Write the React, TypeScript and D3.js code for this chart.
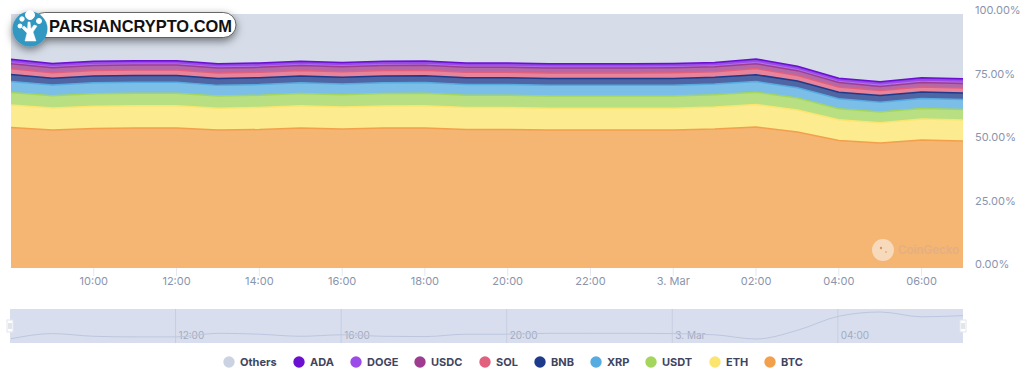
import React from "react";
import * as d3 from "d3";

const hours = d3.range(0, 24);
const BTC = [55.3,54.3,54.9,55.1,55.1,54.3,54.5,55.1,54.7,55.1,55.1,54.5,54.5,54.3,54.3,54.3,54.3,54.7,55.5,53.5,50.2,49.2,50.4,50.0];
const ETH = [8.9,8.7,8.8,8.8,8.8,8.6,8.7,8.8,8.7,8.7,8.8,8.7,8.7,8.6,8.6,8.6,8.6,8.7,8.9,8.7,8.2,8.0,8.3,8.3];
const USDT = [4.9,4.8,4.9,4.9,4.9,4.8,4.8,4.8,4.8,4.9,4.9,4.8,4.8,4.8,4.8,4.8,4.8,4.8,4.8,4.7,4.3,4.2,4.1,4.1];
const XRP = [4.3,4.2,4.3,4.3,4.3,4.2,4.2,4.2,4.2,4.2,4.2,4.2,4.2,4.2,4.2,4.2,4.2,4.2,4.2,4.1,3.9,3.9,3.9,3.9];
const BNB = [2.8,2.7,2.7,2.7,2.7,2.7,2.7,2.7,2.7,2.7,2.7,2.7,2.7,2.7,2.7,2.7,2.7,2.7,2.7,2.6,2.6,2.6,2.6,2.6];
const SOL = [2.2,2.2,2.2,2.2,2.2,2.2,2.2,2.2,2.2,2.2,2.2,2.2,2.2,2.2,2.2,2.2,2.3,2.2,2.4,2.2,2.1,2.0,2.0,2.0];
const USDC = [2.0,1.9,1.9,1.9,1.9,1.9,1.9,1.9,1.9,1.9,1.9,1.9,1.9,1.9,1.9,1.9,1.9,1.9,1.9,1.9,1.7,1.6,1.7,1.7];
const DOGE = [0.9,0.9,0.9,0.9,0.9,0.9,0.9,0.9,0.9,0.9,0.9,0.9,0.9,0.9,0.9,0.9,0.9,0.9,1.0,0.9,0.9,1.0,1.0,1.0];
const ADA = [0.9,0.8,0.8,0.8,0.8,0.8,0.8,0.8,0.8,0.8,0.8,0.8,0.8,0.8,0.8,0.8,0.8,0.8,0.9,0.8,0.8,0.8,0.9,0.9];

const seriesNames = ["BTC","ETH","USDT","XRP","BNB","SOL","USDC","DOGE","ADA","Others"];
const seriesColors = ["#f2a04c","#fbe56f","#a4d65e","#56ace0","#1e3a8a","#e0607e","#9e3d90","#9b4ce8","#6b0fd1","#cbd3e2"];
const legendOrder = ["Others","ADA","DOGE","USDC","SOL","BNB","XRP","USDT","ETH","BTC"];
const legendX = [229,299,356,420,485,540,596,651,715,770];
const xTickHours = [2,4,6,8,10,12,14,16,18,20,22];
const xTickLabels = ["10:00","12:00","14:00","16:00","18:00","20:00","22:00","3. Mar","02:00","04:00","06:00"];
const navTickHours = [4,8,12,16,20];
const navTickLabels = ["12:00","16:00","20:00","3. Mar","04:00"];
const yTicks = [0,25,50,75,100];

const coins = [BTC,ETH,USDT,XRP,BNB,SOL,USDC,DOGE,ADA];
const others = hours.map((i) => 100 - d3.sum(coins, (c) => c[i]));
const table = hours.map((i) => {
  const row: Record<string, number> = { h: i };
  coins.forEach((c, k) => (row[seriesNames[k]] = c[i]));
  row.Others = others[i];
  return row;
});

const FONT = "Inter, 'Noto Sans', sans-serif";

export default function App() {
  const x = d3.scaleLinear().domain([0, 23]).range([11, 963]);
  const y = d3.scaleLinear().domain([0, 100]).range([268, 14]);
  const stacked = d3.stack<any>().keys(seriesNames)(table);
  const area = d3.area<any>().x((d) => x(d.data.h)).y0((d) => y(d[0])).y1((d) => y(d[1])).curve(d3.curveLinear);
  const line = d3.line<any>().x((d) => x(d.data.h)).y((d) => y(d[1])).curve(d3.curveLinear);
  const navY = d3.scaleLinear().domain([d3.min(others)!, d3.max(others)!]).range([339, 312]);
  const navLine = d3.line<number>().x((_, i) => x(i)).y((d) => navY(d)).curve(d3.curveMonotoneX);

  return (
    <svg width={1024} height={376} style={{ position: "absolute", left: 0, top: 0, background: "#fff" }} fontFamily={FONT}>
      <defs>
        <filter id="logoShadow" x="-20%" y="-50%" width="140%" height="220%">
          <feDropShadow dx="0" dy="3" stdDeviation="4" floodColor="#000" floodOpacity="0.5" />
        </filter>
      </defs>
      {stacked.map((s, k) => (
        <path key={s.key} d={area(s) || ""} fill={seriesColors[k]} fillOpacity={0.78} />
      ))}
      {stacked.slice(0, 9).map((s, k) => (
        <path key={s.key} d={line(s) || ""} fill="none" stroke={seriesColors[k]} strokeWidth={1.5} />
      ))}

      {xTickHours.map((h, i) => (
        <g key={h}>
          <line x1={x(h)} x2={x(h)} y1={268} y2={276} stroke="#e4e8f0" />
          <text x={x(h)} y={285} textAnchor="middle" fontSize={11} fill="#8a94ad">{xTickLabels[i]}</text>
        </g>
      ))}
      {yTicks.map((t) => (
        <text key={t} x={975} y={y(t)} fontSize={11} fill="#8a94ad">{t.toFixed(2)}%</text>
      ))}

      <g>
        <circle cx={883} cy={250} r={11} fill="#f7d9bb" />
        <circle cx={881} cy={248} r={1.2} fill="#d8955a" />
        <circle cx={886} cy={252} r={0.8} fill="#d8955a" />
        <text x={898} y={254} fontSize={11.5} fontWeight={600} fill="#e3b083">CoinGecko</text>
      </g>

      <rect x={10} y={309} width={953} height={34} fill="#d8deed" />
      {navTickHours.map((h, i) => (
        <g key={h}>
          <line x1={x(h) - 1} x2={x(h) - 1} y1={309} y2={343} stroke="#c5cee0" />
          <text x={x(h) + 2} y={339} fontSize={10} fill="#a3abc0">{navTickLabels[i]}</text>
        </g>
      ))}
      <path d={navLine(others) || ""} fill="none" stroke="#bcc7de" strokeWidth={1} />
      {[10, 963].map((hx) => (
        <g key={hx}>
          <rect x={hx - 3} y={320} width={6} height={12} fill="#fff" stroke="#e1e5ee" />
          <line x1={hx - 1} x2={hx - 1} y1={323} y2={329} stroke="#c5cbd8" />
          <line x1={hx + 1} x2={hx + 1} y1={323} y2={329} stroke="#c5cbd8" />
        </g>
      ))}

      {legendOrder.map((name, i) => (
        <g key={name}>
          <circle cx={legendX[i]} cy={362} r={5.7} fill={seriesColors[seriesNames.indexOf(name)]} />
          <text x={legendX[i] + 11} y={366} fontSize={11} fontWeight={700} fill="#3f4560">{name}</text>
        </g>
      ))}

      <g filter="url(#logoShadow)">
        <rect x={32} y={12.5} width={204} height={25} rx={12.5} fill="#fff" stroke="#444" strokeWidth={0.8} />
        <circle cx={30} cy={29} r={17.5} fill="#3398c2" />
      </g>
      <text x={49} y={32} fontSize={16.5} fontWeight={700} fill="#111" fontFamily="'Liberation Sans', Arial, sans-serif" textLength={183} lengthAdjust="spacingAndGlyphs">PARSIANCRYPTO.COM</text>
      <g fill="#fff" stroke="#fff">
        <path d="M25 41 L36 41 L33 32 L37 26 L34 25 L31 29 L30 22 L28 22 L27.5 29 L24 26 L22 28 L27 33 Z" strokeWidth={0.5} />
        <circle cx={30} cy={15} r={4.5} />
        <circle cx={39} cy={21} r={2.5} />
        <circle cx={22} cy={19} r={2.2} />
        <circle cx={20} cy={26} r={2} />
      </g>
    </svg>
  );
}
